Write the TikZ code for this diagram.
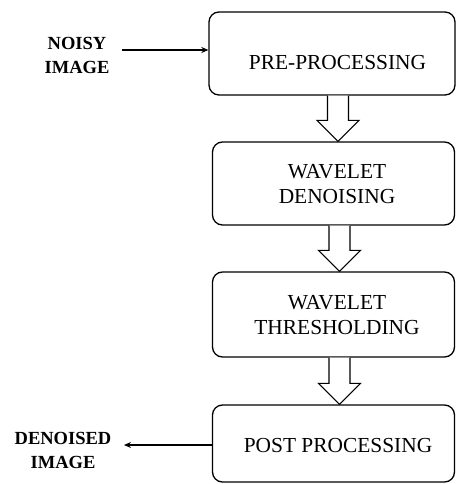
\documentclass[tikz,border=0pt]{standalone}
\usepackage{fontspec}
\setmainfont{Liberation Serif}[BoldFont={Liberation Serif Bold}]
\newfontfamily\timesfont{Liberation Serif}
\usetikzlibrary{arrows.meta,calc}
\tikzset{
  box/.style={draw, line width=1.3pt, rounded corners=10pt, minimum width=246pt, inner sep=0pt},
  boxtext/.style={font=\timesfont\fontsize{21.4}{25}\selectfont, align=center, inner sep=0pt},
  iolabel/.style={font=\timesfont\fontsize{18.5}{24}\selectfont\bfseries, align=center, inner sep=0pt},
  ioarrow/.style={line width=1.5pt, -{Stealth[length=7pt,width=6pt]}},
  hollow/.style={draw, line width=1.1pt, fill=white, line join=miter}
}
\newcommand{\hollowarrow}[2]{%
  \path let \p1=(#1.south), \p2=(#2.north) in
    [hollow] ({\x1+6pt-10.5pt},\y1) -- ({\x1+6pt-10.5pt},{\y2+21pt})
      -- ({\x1+6pt-21pt},{\y2+21pt}) -- ({\x1+6pt},\y2)
      -- ({\x1+6pt+21pt},{\y2+21pt}) -- ({\x1+6pt+10.5pt},{\y2+21pt})
      -- ({\x1+6pt+10.5pt},\y1);%
}
\begin{document}
\begin{tikzpicture}[x=1pt,y=1pt]
\useasboundingbox (0,0) rectangle (456,-484);
% boxes
\node[box, minimum height=83pt] (b1) at (332,-53.5) {};
\node[box, minimum height=83pt, minimum width=242pt] (b2) at (333.5,-183.5) {};
\node[box, minimum height=85pt, minimum width=242pt] (b3) at (333.5,-314.5) {};
\node[box, minimum height=77pt, minimum width=242pt] (b4) at (333.5,-443.5) {};
% box texts
\node[boxtext] (t1) at (337.5,-63) {PRE-PROCESSING};
\node[boxtext] (t2) at (337,-184.5) {WAVELET\\DENOISING};
\node[boxtext] (t3) at (337,-315) {WAVELET\\THRESHOLDING};
\node[boxtext] (t4) at (338,-446) {POST PROCESSING};
% hollow arrows
\hollowarrow{b1}{b2}
\hollowarrow{b2}{b3}
\hollowarrow{b3}{b4}
% input / output
\node[iolabel] (in) at (77,-55) {NOISY\\IMAGE};
\node[iolabel] (out) at (63,-450) {DENOISED\\IMAGE};
\coordinate (inS) at (122,-50);
\coordinate (outE) at (124,-445);
\draw[ioarrow] (inS) -- (inS -| b1.west);
\draw[ioarrow] (outE -| b4.west) -- (outE);
\end{tikzpicture}
\end{document}
